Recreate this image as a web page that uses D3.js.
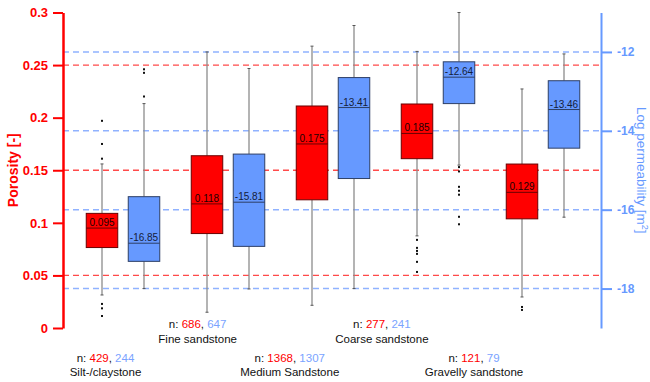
<!DOCTYPE html>
<html>
<head>
<meta charset="utf-8">
<script src="https://cdn.jsdelivr.net/npm/d3@7"></script>
<style>
  html, body { margin: 0; padding: 0; background: #fff; }
  svg { display: block; font-family: "Liberation Sans", Arial, sans-serif; }
</style>
</head>
<body>
<svg id="chart" width="650" height="382"></svg>
<script>
// Lithology classes
const categories = ["Silt-/claystone", "Fine sandstone", "Medium Sandstone", "Coarse sandstone", "Gravelly sandstone"];
const nPorosity = [429, 686, 1368, 277, 121];
const nPermeability = [244, 647, 1307, 241, 79];

// Porosity [-] box statistics
const porLow    = [0.0314, 0.0150, 0.0216, 0.0876, 0.0295];
const porQ1     = [0.0765, 0.0898, 0.1219, 0.1610, 0.1038];
const porMedian = [0.095, 0.118, 0.175, 0.185, 0.129];
const porQ3     = [0.1090, 0.1638, 0.2111, 0.2130, 0.1559];
const porHigh   = [0.1560, 0.2625, 0.2680, 0.2630, 0.2273];
const porOutliers = [
  [0.197, 0.175, 0.161, 0.0229, 0.0187, 0.0114],
  [],
  [],
  [0.0838, 0.0762, 0.0733, 0.0705, 0.0629, 0.0533],
  [0.0200, 0.0172]
];

// Log permeability [m²] box statistics
const permLow    = [-18.00, -18.01, -18.00, -14.87, -16.19];
const permQ1     = [-17.31, -16.93, -15.21, -13.31, -14.44];
const permMedian = [-16.85, -15.81, -13.41, -12.64, -13.46];
const permQ3     = [-15.67, -14.59, -12.65, -12.25, -12.73];
const permHigh   = [-13.31, -12.42, -11.33, -11.00, -12.05];
const permOutliers = [
  [-12.44, -12.53, -13.13],
  [],
  [],
  [-14.92, -15.03, -15.42, -15.52, -15.62, -16.18, -16.37],
  []
];

// Axis ticks
const porTicks = [0, 0.05, 0.1, 0.15, 0.2, 0.25, 0.3];
const porTickLabels = ["0", "0.05", "0.1", "0.15", "0.2", "0.25", "0.3"];
const porMinorTicks = [0,0.01,0.02,0.03,0.04,0.05,0.06,0.07,0.08,0.09,0.1,0.11,0.12,0.13,0.14,0.15,0.16,0.17,0.18,0.19,0.2,0.21,0.22,0.23,0.24,0.25,0.26,0.27,0.28,0.29,0.3];
const permTicks = [-12, -14, -16, -18];
const permTickLabels = ["-12", "-14", "-16", "-18"];
const permMinorTicks = [-11, -13, -15, -17, -19];
const porGrid = [0.05, 0.15, 0.25];
const permGrid = [-12, -14, -16, -18];

const RED = "#ff0000";
const BLUE = "#6699ff";

const svg = d3.select("#chart");

const xLeft = 63, xRight = 601;
const yPor = d3.scaleLinear().domain([0, 0.3]).range([328, 12.5]);
const yPerm = d3.scaleLinear().domain([-19, -11]).range([328, 12.5]);

const x = d3.scaleBand().domain(categories).range([70.5, 595.5]).padding(0);
const xSeries = d3.scalePoint().domain(["por", "perm"]).range([0, x.bandwidth()]).padding(0.75);
const boxW = 31.5;
const xLabel = d3.scalePoint().domain(categories).range([105.5, 474]);

// Dashed reference lines
const grid = svg.append("g");
grid.selectAll("line.gp").data(porGrid).join("line")
  .attr("x1", xLeft).attr("x2", xRight)
  .attr("y1", d => yPor(d)).attr("y2", d => yPor(d))
  .attr("stroke", "#ff4a4a").attr("stroke-width", 1.4).attr("stroke-dasharray", "6,4");
grid.selectAll("line.gb").data(permGrid).join("line")
  .attr("x1", xLeft).attr("x2", xRight)
  .attr("y1", d => yPerm(d)).attr("y2", d => yPerm(d))
  .attr("stroke", "#90b2ff").attr("stroke-width", 1.4).attr("stroke-dasharray", "6,4");

// Box plots
function drawBoxes(key, y, low, q1, med, q3, high, outl, fill, stroke, labelColor, fmt) {
  const rows = categories.map((c, i) => ({
    c, low: low[i], q1: q1[i], med: med[i], q3: q3[i], high: high[i], out: outl[i],
    cx: x(c) + xSeries(key)
  }));
  const g = svg.append("g");
  const gs = g.selectAll("g").data(rows).join("g");
  gs.append("line").attr("x1", d => d.cx).attr("x2", d => d.cx)
    .attr("y1", d => y(d.low)).attr("y2", d => y(d.q1))
    .attr("stroke", "#8c8c8c").attr("stroke-width", 1.3);
  gs.append("line").attr("x1", d => d.cx).attr("x2", d => d.cx)
    .attr("y1", d => y(d.q3)).attr("y2", d => y(d.high))
    .attr("stroke", "#8c8c8c").attr("stroke-width", 1.3);
  ["low", "high"].forEach(k => {
    gs.append("line").attr("x1", d => d.cx - 1.5).attr("x2", d => d.cx + 1.5)
      .attr("y1", d => y(d[k])).attr("y2", d => y(d[k]))
      .attr("stroke", "#555").attr("stroke-width", 1);
  });
  gs.append("rect").attr("x", d => d.cx - boxW / 2).attr("width", boxW)
    .attr("y", d => y(d.q3)).attr("height", d => y(d.q1) - y(d.q3))
    .attr("fill", fill).attr("stroke", stroke).attr("stroke-width", 1);
  gs.append("line").attr("x1", d => d.cx - boxW / 2).attr("x2", d => d.cx + boxW / 2)
    .attr("y1", d => y(d.med)).attr("y2", d => y(d.med))
    .attr("stroke", stroke).attr("stroke-width", 1);
  gs.append("text").attr("x", d => d.cx).attr("y", d => y(d.med) - 2)
    .attr("text-anchor", "middle").attr("font-size", 10).attr("fill", labelColor)
    .text(d => fmt(d.med));
  gs.selectAll("rect.o").data(d => d.out.map(v => ({ v, cx: d.cx }))).join("rect")
    .attr("x", d => d.cx - 1).attr("y", d => y(d.v) - 1)
    .attr("width", 2).attr("height", 2).attr("fill", "#111");
}
drawBoxes("por", yPor, porLow, porQ1, porMedian, porQ3, porHigh, porOutliers,
  RED, "#6a0000", "#1a0000", v => v.toFixed(3));
drawBoxes("perm", yPerm, permLow, permQ1, permMedian, permQ3, permHigh, permOutliers,
  BLUE, "#2d3f66", "#14203a", v => v.toFixed(2));

// Left axis (porosity)
const axL = svg.append("g").attr("transform", `translate(${xLeft},0)`);
axL.call(d3.axisLeft(yPor).tickValues(porMinorTicks).tickFormat("").tickSize(5).tickSizeOuter(0));
axL.call(d3.axisLeft(yPor).tickValues(porTicks).tickFormat((d, i) => porTickLabels[i]).tickSize(10).tickPadding(5).tickSizeOuter(0));
axL.selectAll("path.domain").attr("stroke", RED).attr("stroke-width", 2.5);
axL.selectAll(".tick line").attr("stroke", RED).attr("stroke-width", 2);
axL.selectAll(".tick text").attr("fill", RED).attr("font-size", 13).attr("font-weight", "bold")
  .attr("font-family", "Liberation Sans, Arial, sans-serif");

svg.append("text")
  .attr("transform", `translate(13,${(yPor.range()[0] + yPor.range()[1]) / 2}) rotate(-90)`)
  .attr("text-anchor", "middle").attr("dominant-baseline", "central")
  .attr("fill", RED).attr("font-size", 14).attr("font-weight", "bold")
  .text("Porosity [-]");

// Right axis (log permeability)
const axR = svg.append("g").attr("transform", `translate(${xRight},0)`);
axR.call(d3.axisRight(yPerm).tickValues(permMinorTicks).tickFormat("").tickSize(6).tickSizeOuter(0));
axR.call(d3.axisRight(yPerm).tickValues(permTicks).tickFormat((d, i) => permTickLabels[i]).tickSize(11).tickPadding(5).tickSizeOuter(0));
axR.selectAll("path.domain").attr("stroke", BLUE).attr("stroke-width", 2);
axR.selectAll(".tick line").attr("stroke", BLUE).attr("stroke-width", 2);
axR.selectAll(".tick text").attr("fill", BLUE).attr("font-size", 12).attr("font-weight", "bold")
  .attr("font-family", "Liberation Sans, Arial, sans-serif");

const permTitle = svg.append("text")
  .attr("transform", `translate(642,${(yPerm.range()[0] + yPerm.range()[1]) / 2}) rotate(90)`)
  .attr("text-anchor", "middle").attr("dominant-baseline", "central")
  .attr("fill", BLUE).attr("font-size", 13.5);
permTitle.append("tspan").text("Log permeability [m");
permTitle.append("tspan").attr("font-size", 9).attr("dy", -3).text("2");
permTitle.append("tspan").attr("dy", 3).text("]");

// Category labels with sample counts, staggered in two rows
const lab = svg.append("g").attr("font-size", 11.5).attr("text-anchor", "middle");
categories.forEach((c, i) => {
  const upper = i % 2 === 1;
  const y1 = upper ? 328 : 362;
  const y2 = upper ? 343 : 375.5;
  const t = lab.append("text").attr("x", xLabel(c)).attr("y", y1).attr("fill", "#111");
  t.append("tspan").text("n: ");
  t.append("tspan").attr("fill", RED).text(nPorosity[i]);
  t.append("tspan").text(", ");
  t.append("tspan").attr("fill", "#7aa3ff").text(nPermeability[i]);
  lab.append("text").attr("x", xLabel(c)).attr("y", y2).attr("fill", "#111").text(c);
});
</script>
</body>
</html>
